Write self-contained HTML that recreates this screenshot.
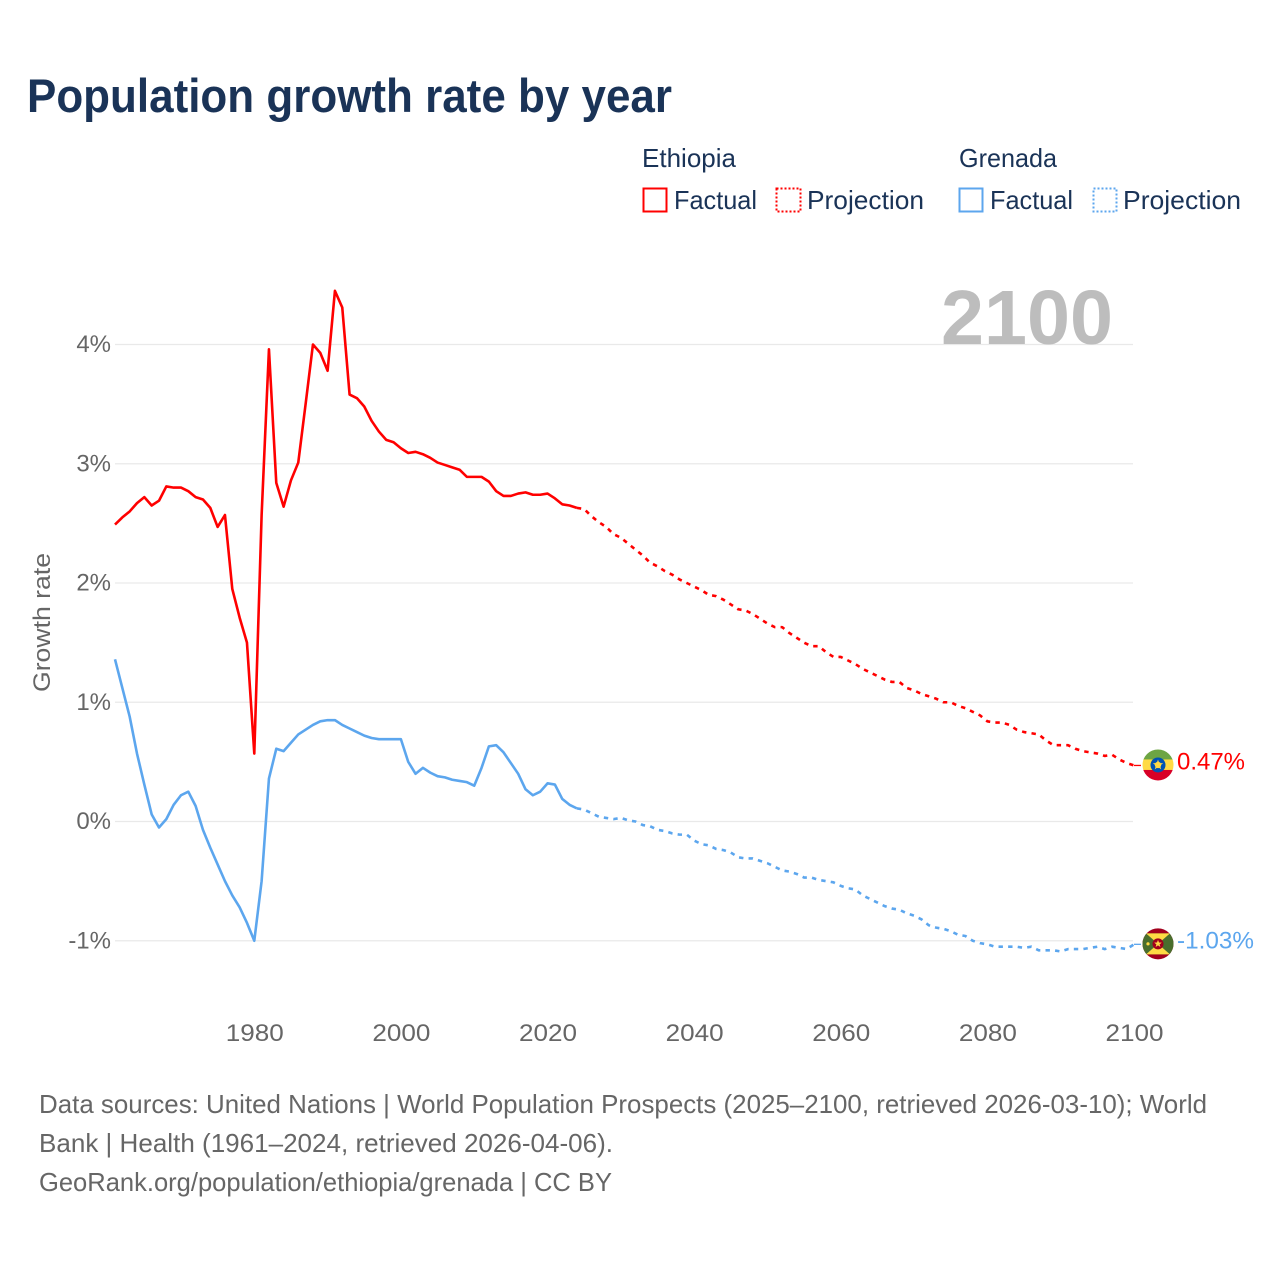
<!DOCTYPE html>
<html lang="en">
<head>
<meta charset="utf-8">
<title>Population growth rate by year</title>
<style>
html,body{margin:0;padding:0;background:#fff;}
svg{display:block;font-family:"Liberation Sans",sans-serif;}
</style>
</head>
<body>
<svg id="chart" xmlns="http://www.w3.org/2000/svg" width="1280" height="1280" viewBox="0 0 1280 1280">
  <rect x="0" y="0" width="1280" height="1280" fill="#fff"/>
  <text x="27" y="112" font-size="47" font-weight="700" fill="#1a3357" textLength="645" lengthAdjust="spacingAndGlyphs">Population growth rate by year</text>

  <g font-size="26" fill="#1a3357">
    <text x="642" y="167" textLength="94" lengthAdjust="spacingAndGlyphs">Ethiopia</text>
    <text x="959" y="167" textLength="98" lengthAdjust="spacingAndGlyphs">Grenada</text>
    <g>
      <rect x="643.5" y="188.5" width="23" height="23" fill="none" stroke="#ff0000" stroke-width="2"/>
      <text x="674" y="209" textLength="83" lengthAdjust="spacingAndGlyphs">Factual</text>
    </g>
    <g>
      <rect x="776.5" y="188.5" width="24" height="23" fill="none" stroke="#ff0000" stroke-width="2" stroke-dasharray="2 2"/>
      <text x="807" y="209" textLength="117" lengthAdjust="spacingAndGlyphs">Projection</text>
    </g>
    <g>
      <rect x="959.5" y="188.5" width="23" height="23" fill="none" stroke="#5ca6ee" stroke-width="2"/>
      <text x="990" y="209" textLength="83" lengthAdjust="spacingAndGlyphs">Factual</text>
    </g>
    <g>
      <rect x="1093.5" y="188.5" width="23" height="23" fill="none" stroke="#5ca6ee" stroke-width="2" stroke-dasharray="2 2"/>
      <text x="1123" y="209" textLength="118" lengthAdjust="spacingAndGlyphs">Projection</text>
    </g>
  </g>

  <g id="grid"></g>
  <text id="year-label" x="1113" y="344" font-size="77" font-weight="700" fill="#bdbdbd" text-anchor="end" textLength="172" lengthAdjust="spacingAndGlyphs"></text>
  <g id="y-ticks" font-size="24" fill="#666" text-anchor="end"></g>
  <g id="x-ticks" font-size="24" fill="#666" text-anchor="middle"></g>
  <text transform="translate(50 622.5) rotate(-90)" font-size="24" fill="#666" text-anchor="middle" textLength="139" lengthAdjust="spacingAndGlyphs">Growth rate</text>

  <g id="series" fill="none" stroke-linejoin="round"></g>

  <g id="flag-ethiopia">
    <clipPath id="clip-et"><circle cx="0" cy="0" r="15.5"/></clipPath>
    <g clip-path="url(#clip-et)">
      <rect x="-16" y="-16" width="32" height="11" fill="#6da544"/>
      <rect x="-16" y="-5.5" width="32" height="11" fill="#ffda44"/>
      <rect x="-16" y="5" width="32" height="11" fill="#d80027"/>
      <circle cx="0" cy="0" r="7.5" fill="#0052b4"/>
      <circle cx="0" cy="0" r="3.2" fill="#ffda44"/>
      <polygon points="0,-5.5 1.3,-1.8 5.2,-1.7 2.1,0.6 3.2,4.4 0,2.1 -3.2,4.4 -2.1,0.6 -5.2,-1.7 -1.3,-1.8" fill="#ffda44"/>
    </g>
  </g>
  <g id="flag-grenada">
    <clipPath id="clip-gd"><circle cx="0" cy="0" r="15.5"/></clipPath>
    <g clip-path="url(#clip-gd)">
      <rect x="-16" y="-16" width="32" height="32" fill="#a2001d"/>
      <rect x="-15.5" y="-10.5" width="31" height="21" fill="#496e2d"/>
      <polygon points="-12,-10.5 12,-10.5 0,0" fill="#ffda44"/>
      <polygon points="-12,10.5 12,10.5 0,0" fill="#ffda44"/>
      <circle cx="0" cy="0" r="5.5" fill="#a2001d"/>
      <polygon points="0,-4 1,-1.3 3.8,-1.2 1.6,0.5 2.4,3.2 0,1.6 -2.4,3.2 -1.6,0.5 -3.8,-1.2 -1,-1.3" fill="#ffda44"/>
      <circle cx="-10" cy="0" r="1.6" fill="#ffda44"/>
    </g>
  </g>
  <g id="end-labels" font-size="24"></g>

  <g font-size="26" fill="#666">
    <text x="39" y="1113" textLength="1168" lengthAdjust="spacingAndGlyphs">Data sources: United Nations | World Population Prospects (2025–2100, retrieved 2026-03-10); World</text>
    <text x="39" y="1152" textLength="574" lengthAdjust="spacingAndGlyphs">Bank | Health (1961–2024, retrieved 2026-04-06).</text>
    <text x="39" y="1191" textLength="573" lengthAdjust="spacingAndGlyphs">GeoRank.org/population/ethiopia/grenada | CC BY</text>
  </g>
</svg>
<script>
const firstYear = 1961;
const lastYear = 2100;
const yTickValues = [-1, 0, 1, 2, 3, 4];
const xTickYears = [1980, 2000, 2020, 2040, 2060, 2080, 2100];
const ethiopiaFactual = [2.49,2.55,2.60,2.67,2.72,2.65,2.69,2.81,2.80,2.80,2.77,2.72,2.70,2.63,2.47,2.57,1.95,1.71,1.50,0.57,2.57,3.96,2.84,2.64,2.86,3.01,3.50,4.00,3.93,3.78,4.45,4.31,3.58,3.55,3.48,3.36,3.27,3.20,3.18,3.13,3.09,3.10,3.08,3.05,3.01,2.99,2.97,2.95,2.89,2.89,2.89,2.85,2.77,2.73,2.73,2.75,2.76,2.74,2.74,2.75,2.71,2.66,2.65,2.63];
const ethiopiaProjection = [2.62,2.56,2.51,2.47,2.41,2.38,2.33,2.28,2.23,2.17,2.14,2.10,2.07,2.03,2.00,1.97,1.94,1.90,1.89,1.86,1.82,1.78,1.77,1.74,1.70,1.66,1.63,1.63,1.58,1.54,1.50,1.47,1.47,1.42,1.38,1.38,1.35,1.32,1.28,1.25,1.22,1.19,1.17,1.17,1.12,1.10,1.07,1.05,1.03,1.00,1.00,0.97,0.95,0.92,0.89,0.84,0.83,0.83,0.81,0.77,0.75,0.74,0.73,0.68,0.64,0.64,0.64,0.61,0.59,0.58,0.57,0.55,0.56,0.52,0.49,0.47];
const grenadaFactual = [1.36,1.12,0.88,0.57,0.31,0.06,-0.05,0.02,0.14,0.22,0.25,0.13,-0.07,-0.22,-0.36,-0.50,-0.62,-0.72,-0.85,-1.00,-0.50,0.36,0.61,0.59,0.66,0.73,0.77,0.81,0.84,0.85,0.85,0.81,0.78,0.75,0.72,0.70,0.69,0.69,0.69,0.69,0.50,0.40,0.45,0.41,0.38,0.37,0.35,0.34,0.33,0.30,0.45,0.63,0.64,0.58,0.49,0.40,0.27,0.22,0.25,0.32,0.31,0.19,0.14,0.11];
const grenadaProjection = [0.10,0.07,0.04,0.03,0.02,0.03,0.01,0.00,-0.03,-0.04,-0.07,-0.08,-0.10,-0.11,-0.11,-0.16,-0.19,-0.20,-0.23,-0.24,-0.26,-0.30,-0.31,-0.31,-0.33,-0.35,-0.38,-0.41,-0.42,-0.44,-0.47,-0.47,-0.49,-0.50,-0.51,-0.54,-0.56,-0.57,-0.62,-0.65,-0.68,-0.71,-0.73,-0.74,-0.77,-0.79,-0.82,-0.87,-0.89,-0.90,-0.92,-0.95,-0.96,-1.00,-1.02,-1.03,-1.05,-1.05,-1.05,-1.05,-1.06,-1.05,-1.08,-1.08,-1.08,-1.09,-1.07,-1.07,-1.07,-1.06,-1.05,-1.07,-1.05,-1.06,-1.07,-1.03];

const NS = 'http://www.w3.org/2000/svg';
const plotLeft = 115, plotRight = 1134, zeroY = 821.5, pxPerPercent = 119.25;
const RED = '#ff0000', BLUE = '#5ca6ee';
function xScale(year) { return plotLeft + (year - firstYear) * (plotRight - plotLeft) / (lastYear - firstYear); }
function yScale(value) { return zeroY - value * pxPerPercent; }
function mk(tag, parent) { const el = document.createElementNS(NS, tag); parent.appendChild(el); return el; }
function pathFrom(points) {
  return points.map(function (p, i) { return (i ? 'L' : 'M') + xScale(p[0]).toFixed(2) + ' ' + yScale(p[1]).toFixed(2); }).join('');
}
function factualPoints(vals) { return vals.map(function (v, i) { return [firstYear + i, v]; }); }
function projectionPoints(factual, vals) {
  const start = firstYear + factual.length - 1;
  return [[start, factual[factual.length - 1]]].concat(vals.map(function (v, i) { return [start + 1 + i, v]; }));
}

const grid = document.getElementById('grid');
const yTicks = document.getElementById('y-ticks');
yTickValues.forEach(function (v) {
  const line = mk('line', grid);
  
  
  line.setAttribute('x1', plotLeft);
  line.setAttribute('x2', plotRight - 1);
  line.setAttribute('y1', yScale(v));
  line.setAttribute('y2', yScale(v));
  line.setAttribute('stroke', '#e9e9e9');
  line.setAttribute('stroke-width', '1.3');
  const t = mk('text', yTicks);
  
  
  t.setAttribute('x', 111);
  t.setAttribute('y', yScale(v) + 7.5);
  t.textContent = v + '%';
});

const xTicks = document.getElementById('x-ticks');
xTickYears.forEach(function (year) {
  const t = mk('text', xTicks);
  
  
  t.setAttribute('x', xScale(year) + 0.5);
  t.setAttribute('y', 1041);
  t.setAttribute('textLength', 58);
  t.setAttribute('lengthAdjust', 'spacingAndGlyphs');
  t.textContent = year;
});

document.getElementById('year-label').textContent = lastYear;

const series = document.getElementById('series');

const ethFactualLine = mk('path', series);


ethFactualLine.setAttribute('d', pathFrom(factualPoints(ethiopiaFactual)));
ethFactualLine.setAttribute('stroke', RED);
ethFactualLine.setAttribute('stroke-width', '2.6');

const ethProjLine = mk('path', series);


ethProjLine.setAttribute('d', pathFrom(projectionPoints(ethiopiaFactual, ethiopiaProjection)));
ethProjLine.setAttribute('stroke', RED);
ethProjLine.setAttribute('stroke-width', '2.6');
ethProjLine.setAttribute('stroke-dasharray', '4.4 5.2');

const greFactualLine = mk('path', series);


greFactualLine.setAttribute('d', pathFrom(factualPoints(grenadaFactual)));
greFactualLine.setAttribute('stroke', BLUE);
greFactualLine.setAttribute('stroke-width', '2.6');

const greProjLine = mk('path', series);


greProjLine.setAttribute('d', pathFrom(projectionPoints(grenadaFactual, grenadaProjection)));
greProjLine.setAttribute('stroke', BLUE);
greProjLine.setAttribute('stroke-width', '2.6');
greProjLine.setAttribute('stroke-dasharray', '4.4 5.2');

const ethEnd = ethiopiaProjection[ethiopiaProjection.length - 1];
const greEnd = grenadaProjection[grenadaProjection.length - 1];

const ethConnector = mk('line', series);


ethConnector.setAttribute('x1', xScale(lastYear));
ethConnector.setAttribute('x2', xScale(lastYear) + 7);
ethConnector.setAttribute('y1', yScale(ethEnd));
ethConnector.setAttribute('y2', yScale(ethEnd));
ethConnector.setAttribute('stroke', RED);
ethConnector.setAttribute('stroke-width', '1.3');

const greConnector = mk('line', series);


greConnector.setAttribute('x1', xScale(lastYear));
greConnector.setAttribute('x2', xScale(lastYear) + 7);
greConnector.setAttribute('y1', yScale(greEnd));
greConnector.setAttribute('y2', yScale(greEnd));
greConnector.setAttribute('stroke', BLUE);
greConnector.setAttribute('stroke-width', '1.3');

document.getElementById('flag-ethiopia').setAttribute('transform', 'translate(1158 ' + (yScale(ethEnd) - 0.5) + ')');
document.getElementById('flag-grenada').setAttribute('transform', 'translate(1158 ' + (yScale(greEnd) - 0.5) + ')');

const endLabels = document.getElementById('end-labels');

const ethLabel = mk('text', endLabels);


ethLabel.setAttribute('x', 1177);
ethLabel.setAttribute('y', yScale(ethEnd) + 4);
ethLabel.setAttribute('fill', RED);
ethLabel.setAttribute('textLength', 68);
ethLabel.setAttribute('lengthAdjust', 'spacingAndGlyphs');
ethLabel.textContent = ethEnd.toFixed(2) + '%';

const greLabel = mk('text', endLabels);


greLabel.setAttribute('x', 1177);
greLabel.setAttribute('y', yScale(greEnd) + 4);
greLabel.setAttribute('fill', BLUE);
greLabel.setAttribute('textLength', 77);
greLabel.setAttribute('lengthAdjust', 'spacingAndGlyphs');
greLabel.textContent = greEnd.toFixed(2) + '%';
</script>
</body>
</html>
